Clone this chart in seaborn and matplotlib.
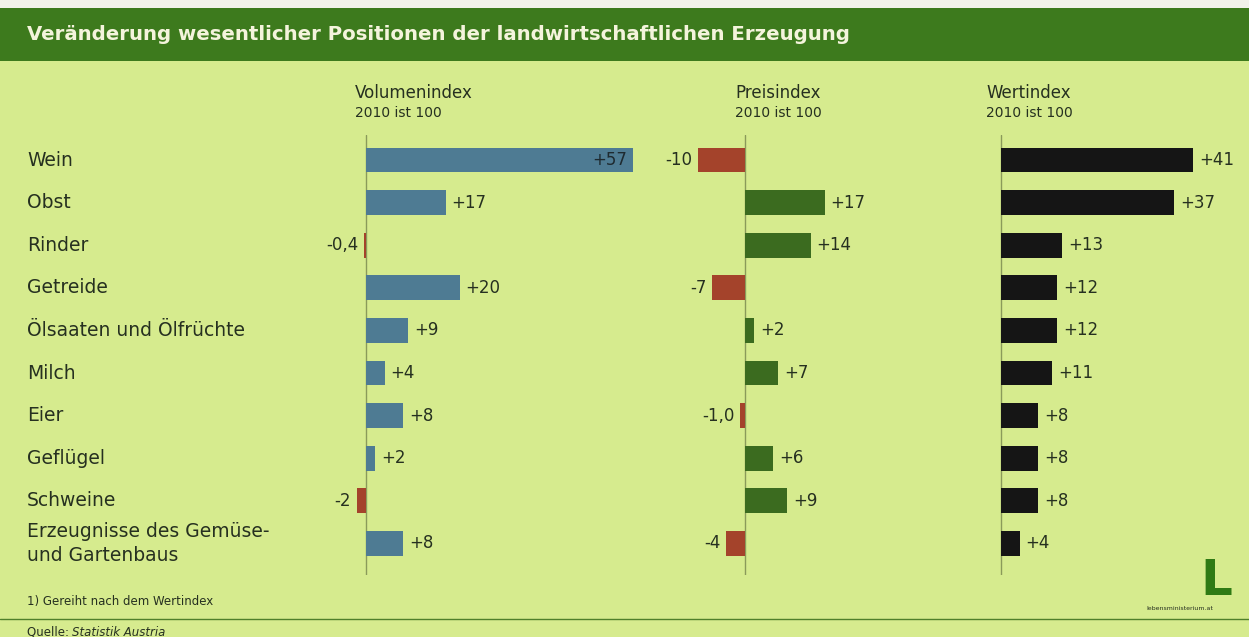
import matplotlib
matplotlib.use("Agg")
import matplotlib.pyplot as plt
import matplotlib.transforms as mtransforms
from matplotlib.patches import Rectangle
import seaborn as sns
import pandas as pd

# ---------------- data ----------------
categories = ["Wein", "Obst", "Rinder", "Getreide", "Ölsaaten und Ölfrüchte",
              "Milch", "Eier", "Geflügel", "Schweine",
              "Erzeugnisse des Gemüse-\nund Gartenbaus"]
volumen = [57, 17, -0.4, 20, 9, 4, 8, 2, -2, 8]
volumen_labels = ["+57", "+17", "-0,4", "+20", "+9", "+4", "+8", "+2", "-2", "+8"]
preis = [-10, 17, 14, -7, 2, 7, -1.0, 6, 9, -4]
preis_labels = ["-10", "+17", "+14", "-7", "+2", "+7", "-1,0", "+6", "+9", "-4"]
wert = [41, 37, 13, 12, 12, 11, 8, 8, 8, 4]
wert_labels = ["+41", "+37", "+13", "+12", "+12", "+11", "+8", "+8", "+8", "+4"]

title = "Veränderung wesentlicher Positionen der landwirtschaftlichen Erzeugung"
panel_titles = ["Volumenindex", "Preisindex", "Wertindex"]
panel_sub = "2010 ist 100"
footnote = "1) Gereiht nach dem Wertindex"
source_a = "Quelle: "
source_b = "Statistik Austria"

# ---------------- style ----------------
BG = "#d6eb8e"
TITLE_BG = "#3d7a1d"
BLUE = "#4e7b93"
RED = "#a4432b"
GREEN = "#3b6b1f"
BLACK = "#151515"
TXT = "#263020"

sns.set_theme(style="white")
plt.rcParams["font.family"] = ["DejaVu Sans"]

W, H = 1249, 637
fig = plt.figure(figsize=(W / 100, H / 100), dpi=100, facecolor=BG)

def fx(px):
    return px / W

def fy(py):
    return 1 - py / H

# top white strip + title bar
fig.patches.append(Rectangle((0, fy(8)), 1, 8 / H, transform=fig.transFigure,
                             facecolor="#f2f2ea", edgecolor="none", zorder=0))
fig.patches.append(Rectangle((0, fy(61)), 1, 53 / H, transform=fig.transFigure,
                             facecolor=TITLE_BG, edgecolor="none", zorder=0))
fig.text(fx(27), fy(35), title, color="#f4f4dc", fontsize=14.2,
         fontweight="bold", va="center", ha="left")

# pixel scale shared by all panels
scale = 4.68  # px per index point
y_top, y_bot = 135, 575
row0, step = 160, 42.6

panels = [
    dict(vals=volumen, labs=volumen_labels, zero=366, left=290, right=665,
         colors=[BLUE if v >= 0 else RED for v in volumen], title_x=355),
    dict(vals=preis, labs=preis_labels, zero=745, left=665, right=940,
         colors=[GREEN if v >= 0 else RED for v in preis], title_x=735),
    dict(vals=wert, labs=wert_labels, zero=1001, left=945, right=1245,
         colors=[BLACK if v >= 0 else RED for v in wert], title_x=986),
]

ylim_top = -(row0 - y_top) / step
ylim_bot = 9 + (y_bot - (row0 + 9 * step)) / step

axes = []
for i, p in enumerate(panels):
    ax = fig.add_axes([fx(p["left"]), fy(y_bot), fx(p["right"] - p["left"]),
                       (y_bot - y_top) / H])
    ax.set_facecolor("none")
    df = pd.DataFrame({"cat": categories, "val": p["vals"]})
    pal = dict(zip(categories, p["colors"]))
    sns.barplot(data=df, x="val", y="cat", hue="cat", palette=pal, legend=False,
                orient="h", width=0.58, ax=ax, saturation=1, order=categories,
                linewidth=0, edgecolor="none")
    ax.set_xlim((p["left"] - p["zero"]) / scale, (p["right"] - p["zero"]) / scale)
    ax.set_ylim(ylim_bot, ylim_top)
    ax.axvline(0, color="#8a9a5a", lw=1.0, zorder=0)
    for s in ax.spines.values():
        s.set_visible(False)
    ax.set_xticks([])
    ax.set_yticks([])
    ax.set_xlabel("")
    ax.set_ylabel("")
    off = 6 / scale
    for j, (v, lab) in enumerate(zip(p["vals"], p["labs"])):
        if i == 0 and j == 0:
            ax.text(v - off, j, lab, ha="right", va="center", fontsize=12, color="#1e2a30")
        elif v >= 0:
            ax.text(v + off, j, lab, ha="left", va="center", fontsize=12, color=TXT)
        else:
            ax.text(v - off, j, lab, ha="right", va="center", fontsize=12, color=TXT)
    fig.text(fx(p["title_x"]), fy(93), panel_titles[i], fontsize=12,
             color=TXT, ha="left", va="center")
    fig.text(fx(p["title_x"]), fy(113), panel_sub, fontsize=10,
             color=TXT, ha="left", va="center")
    axes.append(ax)

# category labels
trans = mtransforms.blended_transform_factory(fig.transFigure, axes[0].transData)
for j, c in enumerate(categories):
    axes[0].text(fx(27), j, c, transform=trans, ha="left", va="center",
                 fontsize=13.5, color=TXT, linespacing=1.35, clip_on=False)

# footnote, rule, source
fig.text(fx(27), fy(602), footnote, fontsize=8.5, color=TXT, ha="left", va="center")
fig.add_artist(plt.Line2D([0, 1], [fy(619), fy(619)], transform=fig.transFigure,
                          color="#4f7f2a", lw=1))
fig.text(fx(27), fy(632), source_a, fontsize=8.5, color=TXT, ha="left", va="center")
fig.text(fx(72), fy(632), source_b, fontsize=8.5, color=TXT, ha="left", va="center",
         style="italic")

# logo
fig.text(fx(1200), fy(581), "L", fontsize=36, fontweight="bold", color="#2f7a14",
         ha="left", va="center")
fig.text(fx(1180), fy(609), "lebensministerium.at", fontsize=4.5, color=TXT,
         ha="center", va="center")

fig.savefig("out.png", dpi=100, facecolor=BG)
